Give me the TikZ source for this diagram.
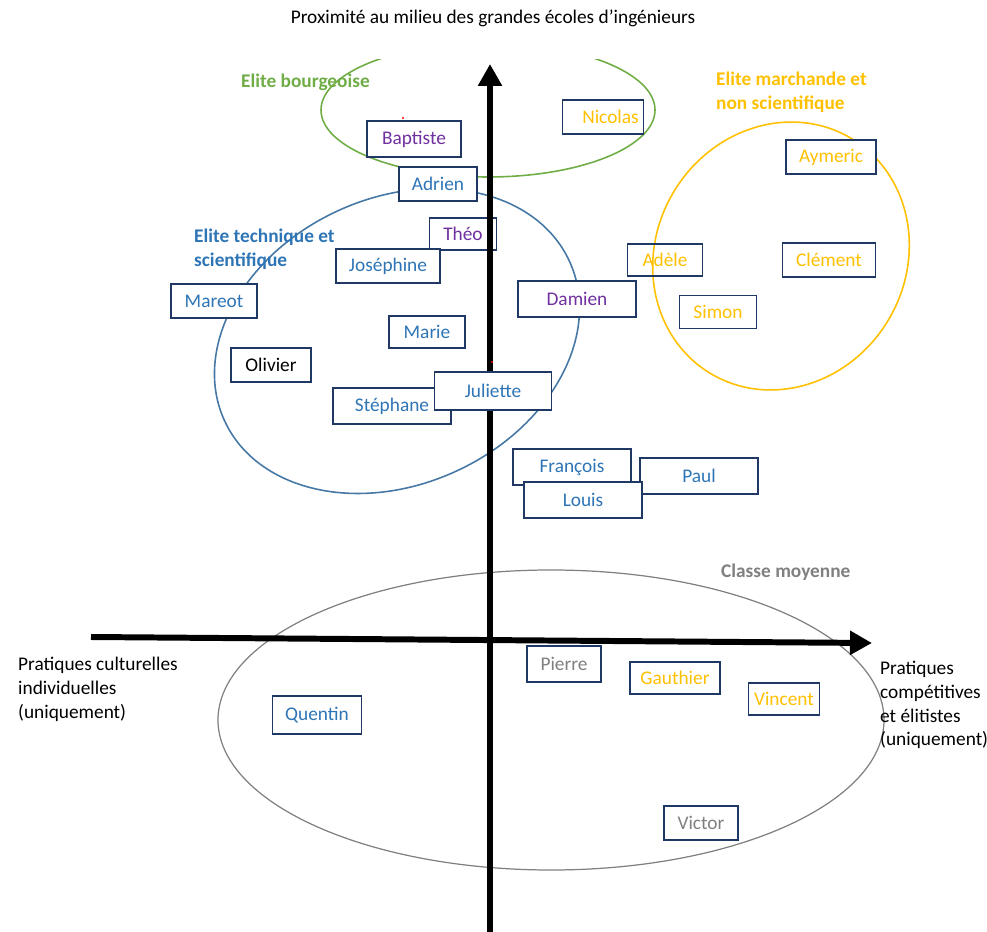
\documentclass[tikz,border=0pt]{standalone}
\usepackage{fontspec}
\setmainfont{Carlito}
\usepackage{tikz}
\usetikzlibrary{arrows.meta}
\usepackage{xcolor}

\definecolor{bleu}{HTML}{2E75B6}
\definecolor{violet}{HTML}{7030A0}
\definecolor{jaune}{HTML}{FFC000}
\definecolor{vert}{HTML}{70AD47}
\definecolor{gris}{HTML}{808080}
\definecolor{cadre}{HTML}{1F3864}

\begin{document}
\begin{tikzpicture}[x=0.02cm, y=-0.02cm, font=\fontsize{11}{13.5}\selectfont,
    eleve/.style={draw=cadre, fill=white, line width=1.1pt, text=#1, minimum height=0.68cm, inner sep=2pt},
    groupe/.style={font=\fontsize{11}{13.5}\selectfont\bfseries, text=#1, align=left, anchor=north west},
    axe/.style={line width=3.4pt, -{Triangle[length=0.44cm, width=0.46cm]}}]

    \useasboundingbox (0,0) rectangle (987,932);

    % Ellipses of the groups
    \begin{scope}
        \clip (0,60) rectangle (987,932);
        \draw[vert, line width=0.9pt] (488,110) ellipse (167 and 67);
    \end{scope}
    \draw[bleu!70!gray, line width=0.9pt, rotate around={25:(397,341)}] (397,341) ellipse (190 and 143);
    \draw[jaune, line width=0.9pt, rotate around={59:(781,256)}] (781,256) ellipse (137 and 125);
    \draw[gris, line width=0.7pt] (551,720) ellipse (333 and 150);

    % Group labels
    \node[groupe=vert] (bourg) at (235,68) {Elite bourgeoise};
    \node[groupe=jaune] (march) at (710,66) {Elite marchande et\\non scientifique};
    \node[groupe=bleu] (techn) at (188,223) {Elite technique et\\scientifique};
    \node[groupe=gris] (moyen) at (715,558) {Classe moyenne};

    % Students (behind the axes)
    \node[eleve=violet, minimum width=1.88cm, minimum height=0.72cm] (bapt) at (414,139) {Baptiste};
    \node[eleve=jaune, minimum width=1.62cm] (nico) at (603,117) {\hspace{0.3cm}Nicolas};
    \node[eleve=bleu, minimum width=1.56cm] (adri) at (438,184) {Adrien};
    \node[eleve=violet, minimum width=1.34cm, minimum height=0.64cm] (theo) at (463,234) {Théo};
    \node[eleve=bleu, minimum width=2.08cm] (jose) at (388,266) {Joséphine};
    \node[eleve=bleu, minimum width=1.72cm] (mare) at (214,301) {Mareot};
    \node[eleve=black, minimum width=1.6cm] (oliv) at (271,365) {Olivier};
    \node[eleve=bleu, minimum width=1.52cm, minimum height=0.64cm] (mari) at (427,332) {Marie};
    \node[eleve=bleu, minimum width=2.36cm, minimum height=0.72cm] (step) at (392,406) {Stéphane\hspace{0.4cm}};
    \node[eleve=violet, minimum width=2.36cm, minimum height=0.72cm] (dami) at (577,299) {Damien};
    \node[eleve=jaune, fill=none, minimum width=1.5cm, minimum height=0.64cm] (adel) at (665,260) {Adèle};
    \node[eleve=jaune, minimum width=1.8cm] (ayme) at (831,157) {Aymeric};
    \node[eleve=jaune, minimum width=1.86cm] (clem) at (829,260) {Clément};
    \node[eleve=jaune, minimum width=1.54cm, minimum height=0.66cm] (simo) at (718,312) {Simon};
    \node[eleve=bleu, minimum width=2.36cm, minimum height=0.72cm] (fran) at (572,467) {François};
    \node[eleve=bleu, minimum width=2.36cm, minimum height=0.72cm] (paul) at (699,476) {Paul};
    \node[eleve=gris, minimum width=1.48cm, minimum height=0.72cm] (pier) at (564,664) {Pierre};
    \node[eleve=jaune, minimum width=1.8cm, minimum height=0.64cm] (gaut) at (675,678) {Gauthier};
    \node[eleve=jaune, minimum width=1.42cm, minimum height=0.64cm] (vinc) at (784,699) {Vincent};
    \node[eleve=bleu, minimum width=1.78cm, minimum height=0.76cm] (quen) at (317,715) {Quentin};
    \node[eleve=gris, minimum width=1.48cm] (vict) at (701,823) {Victor};

    % Axes
    \coordinate (bas) at (490,932);
    \coordinate (haut) at (490,64);
    \coordinate (gauche) at (91,637);
    \coordinate (droite) at (872,643);
    \draw[axe] (bas) -- (haut);
    \draw[axe] (gauche) -- (droite);

    % Students in front of the axes
    \node[eleve=bleu, minimum width=2.34cm, minimum height=0.76cm] (juli) at (493,391) {Juliette};
    \node[eleve=bleu, minimum width=2.36cm, minimum height=0.72cm] (loui) at (583,500) {Louis};

    % Small red marks
    \fill[red] (403,118) circle (1.2);
    \fill[red] (492,362) circle (1.2);

    % Axis labels
    \node (titre) at (493,18) {Proximité au milieu des grandes écoles d’ingénieurs};
    \node[align=left, anchor=north west] (cult) at (12,651) {Pratiques culturelles\\individuelles\\(uniquement)};
    \node[align=left, anchor=north west] (comp) at (874,655) {Pratiques\\compétitives\\et élitistes\\(uniquement)};

\end{tikzpicture}
\end{document}
